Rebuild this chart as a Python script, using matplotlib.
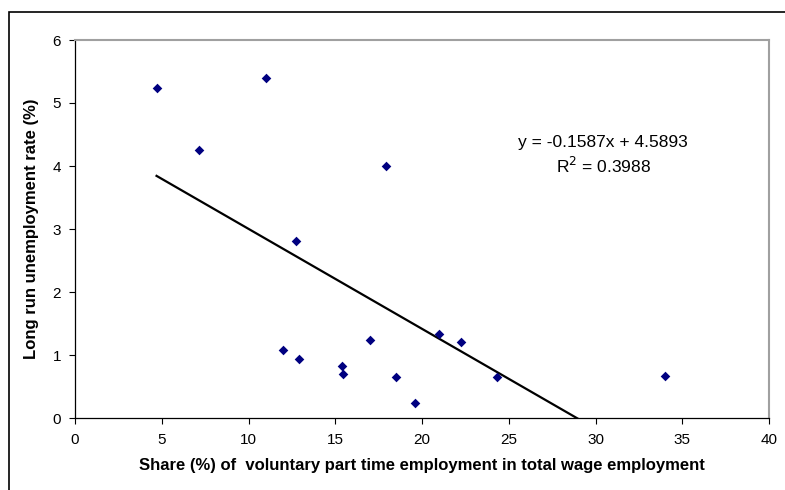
import matplotlib
matplotlib.use("Agg")
import matplotlib.pyplot as plt
from matplotlib.patches import Rectangle
import numpy as np

plt.rcParams['font.family'] = ['Liberation Sans', 'DejaVu Sans']

share = [4.7, 7.15, 11.0, 12.75, 12.0, 12.93, 15.4, 15.46, 17.02, 17.9, 18.52, 19.6, 21.0, 22.25, 24.3, 34.0]
unemp = [5.24, 4.25, 5.40, 2.81, 1.08, 0.94, 0.83, 0.70, 1.24, 4.00, 0.65, 0.24, 1.33, 1.20, 0.65, 0.67]
slope = -0.1587
intercept = 4.5893
xticks = [0, 5, 10, 15, 20, 25, 30, 35, 40]
yticks = [0, 1, 2, 3, 4, 5, 6]

fig = plt.figure(figsize=(7.85, 4.9), dpi=100)
ax = fig.add_axes([75/785, 1-418/490, (769-75)/785, (418-40)/490])

ax.scatter(share, unemp, marker='D', s=24, color='#000080', zorder=3, linewidths=0)
xs = np.array([min(share), max(share)])
ax.plot(xs, slope*xs + intercept, color='black', lw=1.6, zorder=2)

ax.set_xlim(0, 40)
ax.set_ylim(0, 6)
ax.set_xticks(xticks)
ax.set_yticks(yticks)
ax.tick_params(direction='out', length=4, width=0.8, labelsize=11, color='black')
ax.tick_params(axis='x', pad=7)
ax.tick_params(axis='y', pad=6)
for s in ['top', 'right']:
    ax.spines[s].set_color('#a0a0a0')
    ax.spines[s].set_linewidth(1.5)
for s in ['left', 'bottom']:
    ax.spines[s].set_color('black')
    ax.spines[s].set_linewidth(0.9)

ax.set_xlabel('Share (%) of  voluntary part time employment in total wage employment',
              fontsize=12, fontweight='bold', labelpad=8)
ax.set_ylabel('Long run unemployment rate (%)', fontsize=12, fontweight='bold', labelpad=10)

ax.text(0.761, 0.730, 'y = -0.1587x + 4.5893', transform=ax.transAxes,
        ha='center', va='center', fontsize=12.5)
ax.text(0.761, 0.667, 'R$^2$ = 0.3988', transform=ax.transAxes,
        ha='center', va='center', fontsize=12.5)

fig.patches.append(Rectangle((9/785, -0.02), 1.05, 1-12/490+0.02, transform=fig.transFigure,
                             fill=False, edgecolor='black', lw=1.2))

fig.savefig('out.png', dpi=100)
